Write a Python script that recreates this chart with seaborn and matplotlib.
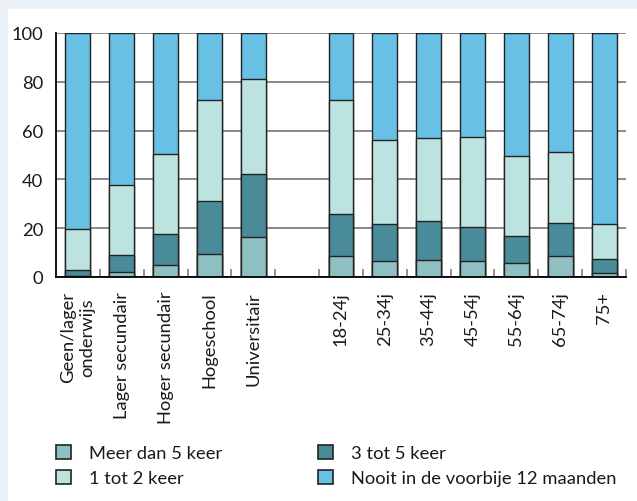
import numpy as np
import pandas as pd
import seaborn as sns
import matplotlib.pyplot as plt
from matplotlib.patches import Patch, Rectangle

#%% data (percentages per stack segment)

Categories = ["Geen/lager\nonderwijs", "Lager secundair", "Hoger secundair", "Hogeschool",
              "Universitair", " ", "18-24j", "25-34j", "35-44j", "45-54j", "55-64j",
              "65-74j", "75+"]

Groups = ["Geen/lager\nonderwijs", "Lager secundair", "Hoger secundair", "Hogeschool",
          "Universitair", "18-24j", "25-34j", "35-44j", "45-54j", "55-64j", "65-74j", "75+"]

Meer_dan_5 = [0.5, 2.0, 5.1, 9.6, 16.4, 8.6, 6.4, 6.8, 6.4, 5.9, 8.6, 1.8]
Drie_tot_5 = [2.5, 6.9, 12.7, 21.5, 25.7, 17.4, 15.5, 16.0, 14.1, 10.8, 13.4, 5.5]
Een_tot_2  = [16.7, 29.0, 32.7, 41.3, 38.9, 46.4, 34.1, 34.0, 36.8, 33.0, 29.2, 14.6]
Nooit      = [80.3, 62.1, 49.5, 27.6, 19.0, 27.6, 44.0, 43.2, 42.7, 50.3, 48.8, 78.1]

Labels = ["Meer dan 5 keer", "1 tot 2 keer", "3 tot 5 keer", "Nooit in de voorbije 12 maanden"]

df = pd.DataFrame({"Groep": Groups,
                   "Meer": Meer_dan_5,
                   "Drie": Drie_tot_5,
                   "Een": Een_tot_2,
                   "Nooit": Nooit})

# cumulative tops, drawn from the highest layer down
df["Top_Meer"]  = df["Meer"]
df["Top_Drie"]  = df["Top_Meer"] + df["Drie"]
df["Top_Een"]   = df["Top_Drie"] + df["Een"]
df["Top_Nooit"] = df["Top_Een"] + df["Nooit"]

#%% style

Color_Meer  = "#8EBFC2"
Color_Drie  = "#4A8B9A"
Color_Een   = "#BDE3E1"
Color_Nooit = "#68C1E5"

Color_BG    = "#EAF2F6"
Color_Grid  = "#808080"
Color_Text  = "#1a1a1a"
Color_Edge  = "#222222"

FontName    = "Lato"
FontSize    = 13.2

Bar_Width   = 0.57
Edge_Width  = 1.0

Fig_Width   = 6.37
Fig_Height  = 5.02

sns.set_style("white")
plt.rcParams["font.family"] = [FontName, "DejaVu Sans"]
plt.rcParams["text.color"] = Color_Text

Fig = plt.figure(figsize=[Fig_Width, Fig_Height], dpi=100, facecolor=Color_BG)

# white panel behind everything
Fig.patches.append(Rectangle((8 / 637, 0), 1, 1 - 10 / 502, transform=Fig.transFigure,
                             facecolor="white", edgecolor="none", zorder=-10))

ax = Fig.add_axes([56 / 637, 1 - 278 / 502, 570 / 637, 244 / 502])
ax.set_facecolor("white")

for col, color in [("Top_Nooit", Color_Nooit), ("Top_Een", Color_Een),
                   ("Top_Drie", Color_Drie), ("Top_Meer", Color_Meer)]:
    sns.barplot(ax=ax, data=df, x="Groep", y=col, order=Categories,
                color=color, saturation=1, width=Bar_Width,
                edgecolor=Color_Edge, linewidth=Edge_Width, zorder=3)

# Y axis
ax.set_ylim(0, 100)
ax.set_yticks([0, 20, 40, 60, 80, 100])
ax.set_ylabel("")
ax.yaxis.grid(True, color=Color_Grid, linewidth=1.3, zorder=0)
ax.set_axisbelow(True)
ax.tick_params(axis="y", length=0, pad=9, labelsize=FontSize, labelcolor=Color_Text)

# X axis
ax.set_xlim(-0.5, len(Categories) - 0.5)
ax.set_xlabel("")
ax.set_xticks(range(len(Categories)))
ax.set_xticklabels(Categories, rotation=90, va="top", ha="center",
                   fontsize=FontSize, color=Color_Text, multialignment="center")
ax.tick_params(axis="x", which="major", length=0, pad=10)
ax.set_xticks(np.arange(0.5, len(Categories), 1), minor=True)
ax.tick_params(axis="x", which="minor", bottom=True, direction="in", length=6,
               width=1.2, color=Color_Grid)

ax.spines[["right", "top"]].set_visible(False)
ax.spines[["left", "bottom"]].set_color("black")
ax.spines[["left", "bottom"]].set_linewidth(1.3)
ax.spines[["left", "bottom"]].set_zorder(5)

# legend
Handles = [Patch(facecolor=c, edgecolor=Color_Edge, linewidth=1.2)
           for c in [Color_Meer, Color_Een, Color_Drie, Color_Nooit]]
Fig.legend(Handles, Labels, ncol=2, loc="upper left",
           bbox_to_anchor=(56 / 637, 1 - 446 / 502), frameon=False,
           fontsize=FontSize, handlelength=0.82, handleheight=0.82,
           handletextpad=1.0, columnspacing=5.2, labelspacing=0.45,
           borderpad=0, borderaxespad=0)

plt.savefig("out.png", dpi=100, facecolor=Color_BG)
